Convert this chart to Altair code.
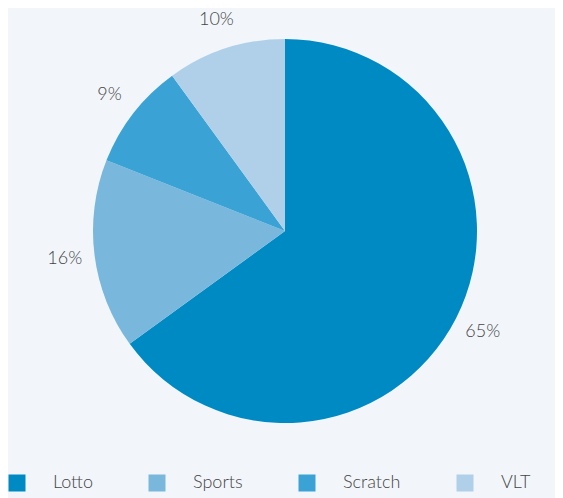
import altair as alt
import pandas as pd

categories = ["Lotto", "Sports", "Scratch", "VLT"]
values = [65, 16, 9, 10]
labels = ["65%", "16%", "9%", "10%"]
colors = ["#008ac4", "#7ab7dd", "#3aa2d4", "#b0d0ea"]

df = pd.DataFrame({
    "category": categories,
    "value": values,
    "label": labels,
    "order": list(range(len(categories))),
})

FONT = "Lato"
TEXT_COLOR = "#444444"
CX, CY = 277, 223

base = alt.Chart(df).encode(
    theta=alt.Theta("value:Q", stack=True),
    order=alt.Order("order:Q"),
    x=alt.value(CX),
    y=alt.value(CY),
)

pie = base.mark_arc(radius=192, stroke=None).encode(
    color=alt.Color(
        "category:N",
        sort=categories,
        scale=alt.Scale(domain=categories, range=colors),
        legend=alt.Legend(
            title=None,
            orient="none",
            legendX=0,
            legendY=466,
            direction="horizontal",
            symbolType="square",
            symbolSize=289,
            symbolStrokeWidth=0,
            symbolOpacity=1,
            labelFont=FONT,
            labelFontSize=18,
            labelFontWeight=300,
            labelColor=TEXT_COLOR,
            labelOffset=27,
            columnPadding=55,
        ),
    )
)

text = base.mark_text(
    radius=222, font=FONT, fontSize=18, fontWeight=300, color=TEXT_COLOR
).encode(text="label:N")

chart = (
    (pie + text)
    .properties(
        width=547,
        height=490,
        padding=0,
        autosize=alt.AutoSizeParams(type="none"),
        background="#f2f6fb",
    )
    .configure_view(stroke=None)
)

chart.save("out.html", embed_options={"renderer": "svg", "actions": False})
